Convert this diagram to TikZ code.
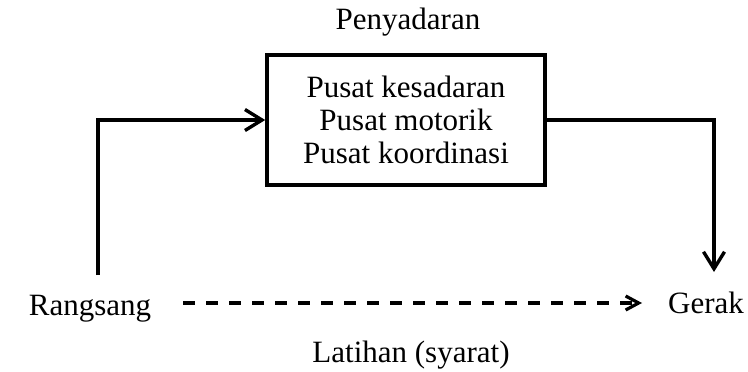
\documentclass[tikz,border=0pt]{standalone}
\usepackage{fontspec}
\setmainfont{Liberation Serif}
\usetikzlibrary{arrows.meta}
\begin{document}
\begin{tikzpicture}[x=1pt,y=-1pt,
  lbl/.style={font=\fontsize{31}{33}\selectfont, inner sep=0pt, anchor=base},
  conn/.style={line width=3.6pt, line cap=butt, line join=miter},
  barb/.style={-{Straight Barb[length=17pt,width=21pt,line width=3.4pt]}},
  smallbarb/.style={-{Straight Barb[length=13pt,width=14pt,line width=3.2pt]}}]
\useasboundingbox (0,0) rectangle (748,372);
\node[draw, line width=3.6pt, minimum width=278pt, minimum height=130pt, inner sep=0pt,
      align=center, font=\fontsize{31}{33}\selectfont] (box) at (406,120)
  {Pusat kesadaran\\Pusat motorik\\Pusat koordinasi};
\node[lbl] (peny) at (408,30) {Penyadaran};
\node[lbl] (rang) at (90,315) {Rangsang};
\node[lbl] (gerak) at (706,313) {Gerak};
\node[lbl] (lat) at (411,362) {Latihan (syarat)};
\coordinate (lstart) at (98,275);
\coordinate (rcorner) at (714,120);
\coordinate (rend) at (714,272);
\coordinate (dstart) at (183,303);
\coordinate (dend) at (642,303);
\draw[conn, barb] (lstart) |- (box.west);
\draw[conn, barb] (box.east) -- (rcorner) -- (rend);
\draw[conn, smallbarb, line width=3.4pt, dash pattern=on 12pt off 11pt] (dstart) -- (dend);
\end{tikzpicture}
\end{document}
